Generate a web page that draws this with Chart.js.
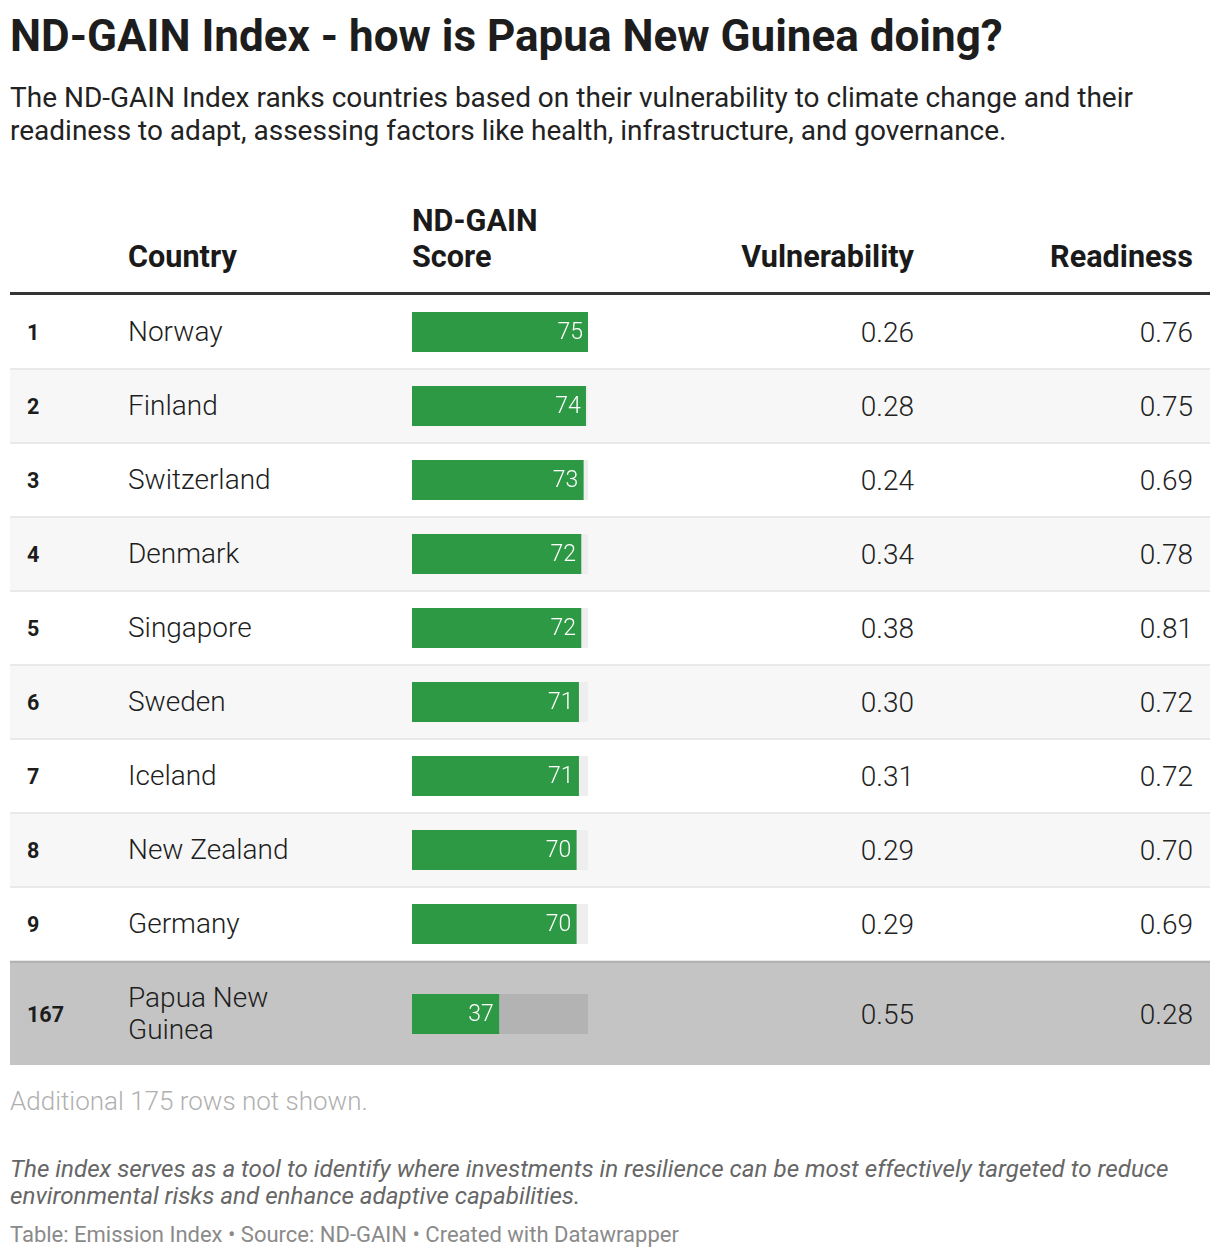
<!DOCTYPE html>
<html>
<head>
<meta charset="utf-8">
<script src="https://cdn.jsdelivr.net/npm/chart.js@4.4.1/dist/chart.umd.min.js"></script>
<style>
  body { margin: 0; background: #fff; font-family: Roboto, sans-serif; color: #1d1d1d; }
  #wrap { position: relative; width: 1220px; height: 1258px; }
  .abs { position: absolute; white-space: nowrap; }
  h1 { position: absolute; left: 10px; top: 10px; margin: 0; font-size: 44px; font-weight: 700; line-height: 52px; white-space: nowrap; }
  .sub { left: 10px; top: 81px; font-size: 28px; line-height: 33px; font-weight: 400; color: #222; white-space: normal; width: 1200px; }
  .hd { font-size: 30.6px; font-weight: 700; line-height: 36px; color: #1a1a1a; }
  .row { position: absolute; left: 10px; width: 1200px; }
  .cell { position: absolute; top: 0; bottom: 0; display: flex; align-items: center; }
  .rank { left: 17px; font-weight: 700; font-size: 21.5px; }
  .name { left: 118px; font-weight: 300; font-size: 28px; line-height: 32px; }
  .num { font-weight: 300; font-size: 28px; justify-content: flex-end; color: #222; }
  .bar { position: absolute; left: 402px; width: 176px; height: 40px; }
  .foot { left: 10px; font-weight: 300; font-size: 26px; color: #b0b0b0; top: 1086px; }
  .note { left: 10px; top: 1156px; font-size: 24.2px; line-height: 27px; font-style: italic; color: #666; white-space: normal; width: 1200px; }
  .src { left: 10px; top: 1222px; font-size: 22px; color: #8a8a8a; }
</style>
</head>
<body>
<div id="wrap">
  <h1>ND-GAIN Index - how is Papua New Guinea doing?</h1>
  <div class="abs sub">The ND-GAIN Index ranks countries based on their vulnerability to climate change and their readiness to adapt, assessing factors like health, infrastructure, and governance.</div>

  <div class="abs hd" style="left:128px; top:239px;">Country</div>
  <div class="abs hd" style="left:412px; top:203px;">ND-GAIN<br>Score</div>
  <div class="abs hd" style="right:306px; top:239px;">Vulnerability</div>
  <div class="abs hd" style="right:27px; top:239px;">Readiness</div>
  <div class="abs" style="left:10px; top:292px; width:1200px; height:3px; background:#333;"></div>

  <div id="rows"></div>

  <div class="abs foot">Additional 175 rows not shown.</div>
  <div class="abs note">The index serves as a tool to identify where investments in resilience can be most effectively targeted to reduce environmental risks and enhance adaptive capabilities.</div>
  <div class="abs src">Table: Emission Index • Source: ND-GAIN • Created with Datawrapper</div>
</div>

<script>
const ranks = [1, 2, 3, 4, 5, 6, 7, 8, 9, 167];
const countries = ['Norway', 'Finland', 'Switzerland', 'Denmark', 'Singapore', 'Sweden', 'Iceland', 'New Zealand', 'Germany', 'Papua New<br>Guinea'];
const scores = [75, 74, 73, 72, 72, 71, 71, 70, 70, 37];
const vulnerability = ['0.26', '0.28', '0.24', '0.34', '0.38', '0.30', '0.31', '0.29', '0.29', '0.55'];
const readiness = ['0.76', '0.75', '0.69', '0.78', '0.81', '0.72', '0.72', '0.70', '0.69', '0.28'];
const scoreMax = 75;

const green = '#2e9944';

// white value label at the end of each bar
const valueLabel = {
  id: 'valueLabel',
  afterDatasetsDraw(chart) {
    const ctx = chart.ctx;
    const meta = chart.getDatasetMeta(0);
    meta.data.forEach((el, i) => {
      ctx.save();
      ctx.font = '300 23px Roboto';
      ctx.fillStyle = '#fff';
      ctx.textAlign = 'right';
      ctx.textBaseline = 'middle';
      ctx.fillText(chart.data.datasets[0].data[i], el.x - 5, el.y + 1);
      ctx.restore();
    });
  }
};

const rowsEl = document.getElementById('rows');
let rowTop = 296;
ranks.forEach((rank, i) => {
  const last = i === ranks.length - 1;
  const h = last ? 103 : 74;
  const row = document.createElement('div');
  row.className = 'row';
  let inner = h;
  if (last) {
    row.style.background = '#c4c4c4';
    row.style.borderTop = '2px solid #b2b2b2';
    row.style.top = (rowTop - 1) + 'px';
    inner = h - 1;
  } else {
    row.style.background = i % 2 ? '#f7f7f7' : '#fff';
    row.style.borderBottom = '2px solid #e9e9e9';
    row.style.top = rowTop + 'px';
    inner = h - 2;
  }
  row.style.height = inner + 'px';
  row.innerHTML =
    '<div class="cell rank">' + rank + '</div>' +
    '<div class="cell name">' + countries[i] + '</div>' +
    '<div class="cell num" style="right:296px">' + vulnerability[i] + '</div>' +
    '<div class="cell num" style="right:17px">' + readiness[i] + '</div>';
  const box = document.createElement('div');
  box.className = 'bar';
  box.style.top = Math.round(inner / 2 - 20) + 'px';
  const cv = document.createElement('canvas');
  box.appendChild(cv);
  row.appendChild(box);
  rowsEl.appendChild(row);

  new Chart(cv, {
    type: 'bar',
    data: {
      labels: [countries[i]],
      datasets: [
        { data: [scores[i]], backgroundColor: green, grouped: false, barPercentage: 1, categoryPercentage: 1 },
        { data: [scoreMax], backgroundColor: last ? '#b3b3b3' : '#eeeeee', grouped: false, barPercentage: 1, categoryPercentage: 1 }
      ]
    },
    options: {
      indexAxis: 'y',
      responsive: true,
      maintainAspectRatio: false,
      animation: false,
      layout: { padding: 0 },
      plugins: { legend: { display: false }, tooltip: { enabled: false } },
      scales: {
        x: { min: 0, max: scoreMax, display: false },
        y: { display: false }
      }
    },
    plugins: [valueLabel]
  });
  rowTop += h;
});
</script>
</body>
</html>
